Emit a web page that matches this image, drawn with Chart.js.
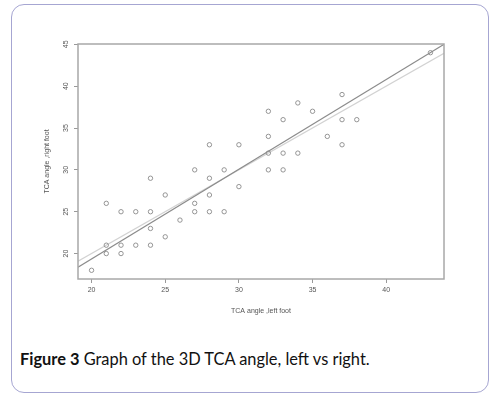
<!DOCTYPE html>
<html>
<head>
<meta charset="utf-8">
<script src="https://cdn.jsdelivr.net/npm/chart.js@4/dist/chart.umd.min.js"></script>
<style>
  body { margin: 0; background: #fff; }
  #frame {
    position: absolute; left: 11px; top: 4px; width: 478px; height: 389px;
    border: 1.5px solid #a6a6d2; border-radius: 13px; box-sizing: border-box;
  }
  #wrap { position: absolute; left: 0; top: 0; width: 494px; height: 330px; }
  #caption {
    position: absolute; left: 20px; top: 349px;
    font-family: Lato, "Noto Sans", sans-serif; font-size: 16.4px; color: #111;
  }
</style>
</head>
<body>
<div id="frame"></div>
<div id="wrap"><canvas id="myChart"></canvas></div>
<div id="caption"><b>Figure 3</b> Graph of the 3D TCA angle, left vs right.</div>
<script>
// TCA angle, left foot vs right foot
const leftFoot  = [20, 21, 21, 21, 22, 22, 22, 23, 23, 24, 24, 24, 24, 25, 25, 26, 27, 27, 27, 28, 28, 28, 28, 29, 29, 30, 30, 32, 32, 32, 32, 33, 33, 33, 34, 34, 35, 36, 37, 37, 37, 38, 43];
const rightFoot = [18, 26, 21, 20, 25, 21, 20, 25, 21, 29, 25, 23, 21, 27, 22, 24, 30, 26, 25, 33, 29, 27, 25, 30, 25, 33, 28, 37, 34, 32, 30, 36, 32, 30, 38, 32, 37, 34, 39, 36, 33, 36, 44];

// fitted line and identity line, read at the plot edges
const lineX     = [19.08, 43.92];
const fitY      = [18.37, 45.0];
const identityY = [19.08, 43.92];

const xTicks = [20, 25, 30, 35, 40];
const yTicks = [20, 25, 30, 35, 40, 45];

const toPts = (xs, ys) => xs.map((x, i) => ({x: x, y: ys[i]}));

const tickFont = {family: "'Liberation Sans', Arial, sans-serif", size: 7};

// box around the plot + vertical y tick labels like R
const boxPlugin = {
  id: 'box',
  afterDraw(chart) {
    const ctx = chart.ctx;
    const a = chart.chartArea;
    ctx.save();
    ctx.strokeStyle = '#a8a8a8';
    ctx.lineWidth = 1.5;
    ctx.strokeRect(a.left, a.top, a.right - a.left, a.bottom - a.top);
    const ys = chart.scales.y;
    ctx.fillStyle = '#555';
    ctx.font = "7px 'Liberation Sans', Arial, sans-serif";
    ctx.textAlign = 'center';
    ctx.textBaseline = 'middle';
    yTicks.forEach(v => {
      const py = ys.getPixelForValue(v);
      ctx.save();
      ctx.translate(a.left - 12, py);
      ctx.rotate(-Math.PI / 2);
      ctx.fillText(String(v), 0, 0);
      ctx.restore();
    });
    ctx.restore();
  }
};

const ctx = document.getElementById('myChart').getContext('2d');
const myChart = new Chart(ctx, {
  type: 'scatter',
  data: {
    datasets: [
      {
        label: 'points',
        data: toPts(leftFoot, rightFoot),
        pointStyle: 'circle',
        pointRadius: 2.2,
        pointBorderWidth: 0.9,
        pointBorderColor: '#8a8a8a',
        pointBackgroundColor: 'rgba(0,0,0,0)'
      },
      {
        label: 'fit',
        data: toPts(lineX, fitY),
        showLine: true,
        pointRadius: 0,
        borderColor: '#8c8c8c',
        borderWidth: 1.2
      },
      {
        label: 'identity',
        data: toPts(lineX, identityY),
        showLine: true,
        pointRadius: 0,
        borderColor: '#d2d2d2',
        borderWidth: 1.2
      }
    ]
  },
  options: {
    responsive: true,
    maintainAspectRatio: false,
    animation: false,
    layout: {padding: {left: 0, top: 44, right: 50, bottom: 0}},
    plugins: {legend: {display: false}, tooltip: {enabled: false}},
    scales: {
      x: {
        type: 'linear',
        min: 19.08,
        max: 43.92,
        afterBuildTicks: s => { s.ticks = xTicks.map(v => ({value: v})); },
        afterFit: s => { s.height = 51; },
        border: {display: false},
        grid: {drawOnChartArea: false, tickLength: 4, color: '#999', lineWidth: 1},
        ticks: {color: '#555', font: tickFont, padding: 3},
        title: {display: true, text: 'TCA angle ,left foot', color: '#555', font: tickFont, padding: {top: 0, bottom: 15}}
      },
      y: {
        type: 'linear',
        min: 16.96,
        max: 45.04,
        afterBuildTicks: s => { s.ticks = yTicks.map(v => ({value: v})); },
        afterFit: s => { s.width = 78; },
        border: {display: false},
        grid: {drawOnChartArea: false, tickLength: 4, color: '#999', lineWidth: 1},
        ticks: {display: false},
        title: {display: true, text: 'TCA angle ,right foot', color: '#555', font: tickFont, padding: {top: 43, bottom: 43}}
      }
    }
  },
  plugins: [boxPlugin]
});
</script>
</body>
</html>
